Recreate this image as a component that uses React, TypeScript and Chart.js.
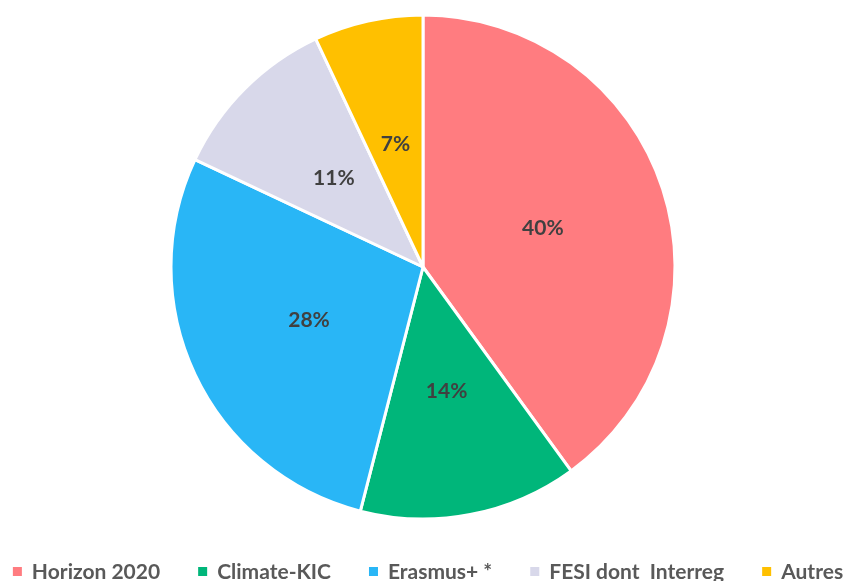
import React, { useEffect, useRef } from "react";
import { Chart, registerables } from "chart.js";

Chart.register(...registerables);

const categories = ["Horizon 2020", "Climate-KIC", "Erasmus+ *", "FESI dont  Interreg", "Autres"];
const shares = [40, 14, 28, 11, 7];
const colors = ["#FF7C80", "#00B67A", "#29B6F6", "#D8D8EA", "#FFC000"];

const labelPlugin = {
  id: "sliceLabels",
  afterDatasetsDraw(chart: any) {
    const ctx = chart.ctx;
    const meta = chart.getDatasetMeta(0);
    const data = chart.data.datasets[0].data as number[];
    ctx.save();
    ctx.font = "bold 21px Lato";
    ctx.fillStyle = "#404040";
    ctx.textAlign = "center";
    ctx.textBaseline = "middle";
    meta.data.forEach((arc: any, i: number) => {
      const p = arc.tooltipPosition();
      ctx.fillText(data[i] + "%", p.x, p.y);
    });
    ctx.restore();
  },
};

const legendPlugin = {
  id: "bottomLegend",
  afterDraw(chart: any) {
    const ctx = chart.ctx;
    const labels = chart.data.labels as string[];
    const bg = chart.data.datasets[0].backgroundColor as string[];
    const box = 9;
    const gapText = 10;
    const gapItem = 38;
    const baseline = 579;
    ctx.save();
    ctx.font = "bold 21px Lato";
    const widths = labels.map((l) => ctx.measureText(l).width);
    const total =
      widths.reduce((a, w) => a + w + box + gapText, 0) + gapItem * (labels.length - 1);
    let x = 428 - total / 2;
    ctx.textBaseline = "alphabetic";
    ctx.textAlign = "left";
    labels.forEach((l, i) => {
      ctx.fillStyle = bg[i];
      ctx.fillRect(x, baseline - 12, box, box);
      x += box + gapText;
      ctx.fillStyle = "#595959";
      ctx.fillText(l, x, baseline);
      x += widths[i] + gapItem;
    });
    ctx.restore();
  },
};

export default function App() {
  const ref = useRef<HTMLCanvasElement>(null);
  useEffect(() => {
    if (!ref.current) return;
    const chart = new Chart(ref.current, {
      type: "pie",
      data: {
        labels: categories,
        datasets: [
          {
            data: shares,
            backgroundColor: colors,
            borderColor: "#ffffff",
            borderWidth: 3,
            hoverOffset: 0,
          },
        ],
      },
      options: {
        animation: false,
        responsive: false,
        radius: 252,
        layout: { padding: { top: 15, bottom: 62, left: 0, right: 0 } },
        plugins: {
          tooltip: { enabled: false },
          legend: { display: false },
        },
      } as any,
      plugins: [labelPlugin, legendPlugin],
    });
    return () => chart.destroy();
  }, []);
  return (
    <div style={{ position: "fixed", left: 0, top: 0, width: 846, height: 581, background: "#fff" }}>
      <canvas ref={ref} width={846} height={581} style={{ display: "block" }} />
    </div>
  );
}
